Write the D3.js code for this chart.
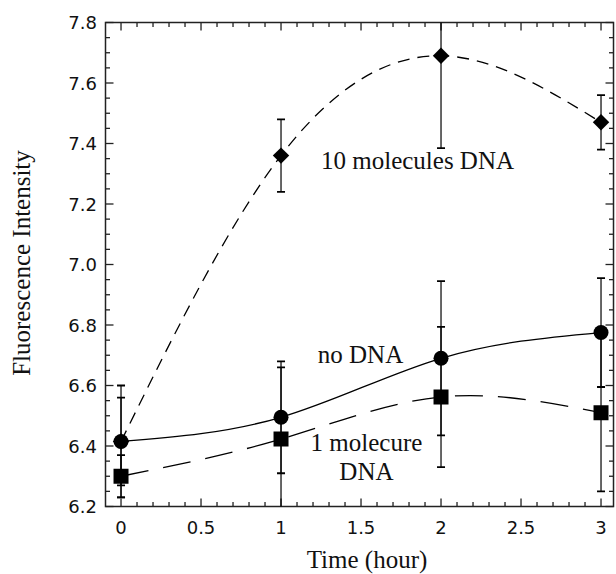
<!DOCTYPE html>
<html>
<head>
<meta charset="utf-8">
<script src="https://cdn.jsdelivr.net/npm/d3@7"></script>
<style>
  body { margin: 0; background: #fff; }
  svg { display: block; }
  .tick-label { font-family: "DejaVu Sans", Verdana, sans-serif; font-size: 18px; fill: #111; }
  .serif { font-family: "Liberation Serif", "Times New Roman", serif; font-size: 25px; fill: #111; }
</style>
</head>
<body>
<div id="chart"></div>
<script>
// data
const times = [0, 1, 2, 3];
const tenMolecules = [6.415, 7.36, 7.69, 7.47];
const tenMoleculesErr = [0.185, 0.12, 0.305, 0.09];
const noDNA = [6.415, 6.495, 6.69, 6.775];
const noDNAErr = [0.145, 0.185, 0.255, 0.18];
const oneMolecule = [6.30, 6.423, 6.562, 6.51];
const oneMoleculeErr = [0.07, 0.237, 0.232, 0.26];

const xTickValues = [0, 0.5, 1, 1.5, 2, 2.5, 3];
const xTickLabels = ["0", "0.5", "1", "1.5", "2", "2.5", "3"];
const yTickValues = [6.2, 6.4, 6.6, 6.8, 7.0, 7.2, 7.4, 7.6, 7.8];
const yTickLabels = ["6.2", "6.4", "6.6", "6.8", "7.0", "7.2", "7.4", "7.6", "7.8"];

const width = 616, height = 574;
const plot = { left: 105.5, right: 613.5, top: 22.5, bottom: 506.5 };

const svg = d3.select("#chart").append("svg")
  .attr("width", width)
  .attr("height", height);

const x = d3.scaleLinear().domain([-0.097, 3.078]).range([plot.left, plot.right]);
const y = d3.scaleLinear().domain([6.2, 7.8]).range([plot.bottom, plot.top]);

svg.append("clipPath").attr("id", "clip")
  .append("rect")
  .attr("x", plot.left).attr("y", plot.top)
  .attr("width", plot.right - plot.left).attr("height", plot.bottom - plot.top);

// ticks on all four sides, pointing inward
const xMinor = d3.range(0, 31).map(i => i / 10);
const yMinor = d3.range(0, 33).map(i => 6.2 + i * 0.05);
const isMajorX = v => Math.abs(v * 2 - Math.round(v * 2)) < 1e-6;
const isMajorY = v => Math.abs(v * 5 - Math.round(v * 5)) < 1e-6;

const ticks = svg.append("g").attr("stroke", "#222").attr("stroke-width", 1.3);
xMinor.forEach(v => {
  const len = isMajorX(v) ? 8 : 4.5;
  ticks.append("line").attr("x1", x(v)).attr("x2", x(v)).attr("y1", plot.bottom).attr("y2", plot.bottom - len);
  ticks.append("line").attr("x1", x(v)).attr("x2", x(v)).attr("y1", plot.top).attr("y2", plot.top + len);
});
yMinor.forEach(v => {
  const len = isMajorY(v) ? 8 : 4.5;
  ticks.append("line").attr("y1", y(v)).attr("y2", y(v)).attr("x1", plot.left).attr("x2", plot.left + len);
  ticks.append("line").attr("y1", y(v)).attr("y2", y(v)).attr("x1", plot.right).attr("x2", plot.right - len);
});

svg.append("rect")
  .attr("x", plot.left).attr("y", plot.top)
  .attr("width", plot.right - plot.left).attr("height", plot.bottom - plot.top)
  .attr("fill", "none").attr("stroke", "#222").attr("stroke-width", 1.5);

// tick labels
svg.selectAll(".xlab").data(xTickValues).enter().append("text")
  .attr("class", "tick-label")
  .attr("x", d => x(d)).attr("y", 534)
  .attr("text-anchor", "middle")
  .text((d, i) => xTickLabels[i]);

svg.selectAll(".ylab").data(yTickValues).enter().append("text")
  .attr("class", "tick-label")
  .attr("x", 97).attr("y", d => y(d) + 6.5)
  .attr("text-anchor", "end")
  .text((d, i) => yTickLabels[i]);

// axis titles
svg.append("text").attr("class", "serif")
  .attr("x", 367).attr("y", 568)
  .attr("text-anchor", "middle")
  .text("Time (hour)");

svg.append("text").attr("class", "serif")
  .attr("transform", "translate(30,263) rotate(-90)")
  .attr("text-anchor", "middle")
  .text("Fluorescence Intensity");

// series
const series = [
  { name: "ten", values: tenMolecules, err: tenMoleculesErr, dash: "12,8", marker: "diamond" },
  { name: "one", values: oneMolecule, err: oneMoleculeErr, dash: "28,15", marker: "square" },
  { name: "none", values: noDNA, err: noDNAErr, dash: null, marker: "circle" }
];

const line = d3.line()
  .x((d, i) => x(times[i]))
  .y(d => y(d))
  .curve(d3.curveNatural);

const inner = svg.append("g").attr("clip-path", "url(#clip)");

series.forEach(s => {
  inner.append("path")
    .datum(s.values)
    .attr("fill", "none")
    .attr("stroke", "#000")
    .attr("stroke-width", 1.3)
    .attr("stroke-dasharray", s.dash)
    .attr("d", line);
});

series.forEach(s => {
  const g = inner.append("g").attr("stroke", "#000");
  s.values.forEach((v, i) => {
    const cx = x(times[i]);
    const lo = y(v - s.err[i]), hi = y(v + s.err[i]);
    g.append("line").attr("x1", cx).attr("x2", cx).attr("y1", lo).attr("y2", hi).attr("stroke-width", 1.2);
    g.append("line").attr("x1", cx - 4).attr("x2", cx + 4).attr("y1", lo).attr("y2", lo).attr("stroke-width", 1.8);
    g.append("line").attr("x1", cx - 4).attr("x2", cx + 4).attr("y1", hi).attr("y2", hi).attr("stroke-width", 1.8);
  });
});

series.forEach(s => {
  const sym = s.marker === "circle" ? d3.symbol(d3.symbolCircle, Math.PI * 7.5 * 7.5)
    : s.marker === "square" ? d3.symbol(d3.symbolSquare, 225)
    : d3.symbol(d3.symbolSquare, 135);
  const rot = s.marker === "diamond" ? " rotate(45)" : "";
  inner.selectAll(".m-" + s.name).data(s.values).enter().append("path")
    .attr("transform", (d, i) => `translate(${x(times[i])},${y(d)})${rot}`)
    .attr("d", sym)
    .attr("fill", "#000");
});

// annotations
const notes = [
  { lines: ["10 molecules DNA"], tx: 1.25, ty: 7.316, anchor: "start" },
  { lines: ["no DNA"], tx: 1.23, ty: 6.675, anchor: "start" },
  { lines: ["1 molecure", "DNA"], tx: 1.534, ty: 6.383, anchor: "middle" }
];
notes.forEach(n => {
  n.lines.forEach((t, k) => {
    svg.append("text").attr("class", "serif")
      .attr("x", x(n.tx)).attr("y", y(n.ty) + k * 28.5)
      .attr("text-anchor", n.anchor)
      .text(t);
  });
});
</script>
</body>
</html>
